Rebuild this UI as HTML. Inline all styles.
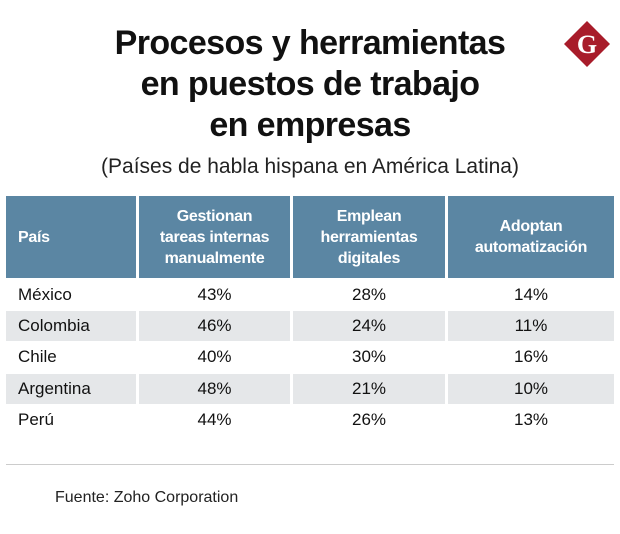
<!DOCTYPE html>
<html><head><meta charset="utf-8"><style>
body{margin:0;width:620px;height:534px;background:#fff;font-family:"Liberation Sans",sans-serif;position:relative;overflow:hidden}
.t{position:absolute;left:0;width:620px;text-align:center;font-weight:bold;font-size:34px;color:#111;line-height:41px;top:23px;letter-spacing:-0.6px}
.s{position:absolute;left:0;width:620px;text-align:center;font-size:21px;top:155px;color:#222}
.c{position:absolute;box-sizing:border-box;display:flex;align-items:center;justify-content:center;text-align:center;font-size:17px;color:#111}
.h{background:#5b86a3;color:#fff;font-weight:bold;font-size:16px;line-height:21px;letter-spacing:-0.3px}
</style></head><body>
<div class="t">Procesos y herramientas<br>en puestos de trabajo<br>en empresas</div>
<div class="s">(Países de habla hispana en América Latina)</div>
<svg style="position:absolute;left:563px;top:20px" width="48" height="48"><polygon points="24,1 47,24 24,47 1,24" fill="#a81c2a"/><text x="24" y="33" text-anchor="middle" font-family="Liberation Serif" font-weight="bold" font-size="26" fill="#fff">G</text></svg>
<div id="tbl"></div>
<div style="position:absolute;left:6px;top:464px;width:608px;height:1px;background:#ccc"></div>
<div style="position:absolute;left:55px;top:489px;font-size:16px;color:#222">Fuente: Zoho Corporation</div>
<script>
const headers=["País","Gestionan<br>tareas internas<br>manualmente","Emplean<br>herramientas<br>digitales","Adoptan<br>automatización"];
const countries=["México","Colombia","Chile","Argentina","Perú"];
const manual=[43,46,40,48,44];
const digital=[28,24,30,21,26];
const auto=[14,11,16,10,13];
const cols=[[6,130],[139,151],[293,152],[448,166]];
const tbl=document.getElementById('tbl');
function cell(x,y,w,h,html,cls,bg,left){const d=document.createElement('div');d.className='c '+cls;


d.style.cssText=`left:${x}px;top:${y}px;width:${w}px;height:${h}px;${bg?'background:'+bg+';':''}${left?'justify-content:flex-start;padding-left:12px;':''}`;d.innerHTML=html;tbl.appendChild(d);}
headers.forEach((h,i)=>cell(cols[i][0],196,cols[i][1],82,h,'h',null,i==0));
countries.forEach((c,r)=>{const y=280+r*31.2,bg=r%2?'#e5e7e9':null;const vals=[c,manual[r]+'%',digital[r]+'%',auto[r]+'%'];
vals.forEach((v,i)=>cell(cols[i][0],y,cols[i][1],30,v,'',bg,i==0));});
</script>
</body></html>
